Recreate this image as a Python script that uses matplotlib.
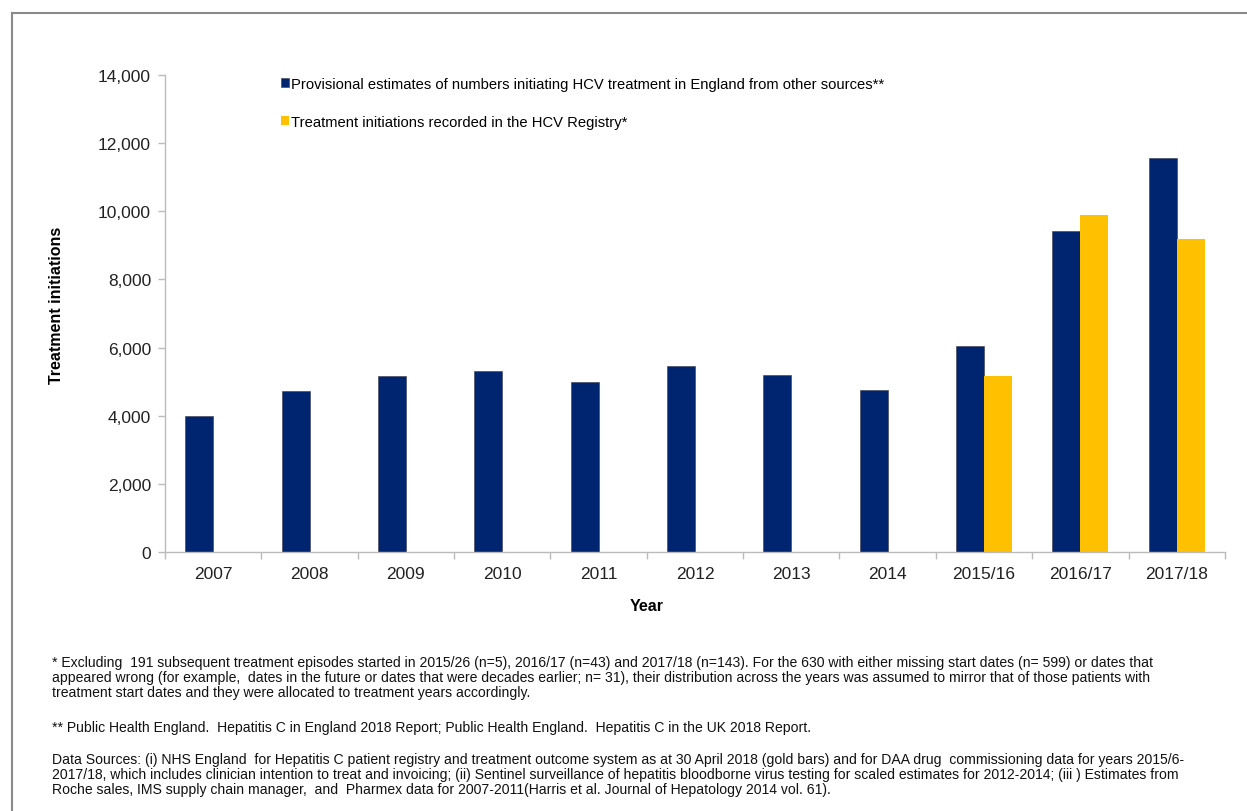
import numpy as np
import matplotlib
matplotlib.use("Agg")
import matplotlib.pyplot as plt
from matplotlib.lines import Line2D
from matplotlib.ticker import FuncFormatter, FixedLocator

plt.rcParams['font.family'] = ['Liberation Sans', 'DejaVu Sans']

years = ['2007', '2008', '2009', '2010', '2011', '2012', '2013', '2014',
         '2015/16', '2016/17', '2017/18']
other_sources = [4000, 4730, 5170, 5310, 4990, 5460, 5200, 4750, 6060, 9430, 11570]
registry = [0, 0, 0, 0, 0, 0, 0, 0, 5160, 9890, 9190]

navy = '#002570'
gold = '#FFC000'

fig = plt.figure(figsize=(12.47, 8.12), dpi=100)
ax = fig.add_axes([0.1323, 0.319, 0.850, 0.5874])

x = np.arange(len(years))
w = 0.29
ax.bar(x - w / 2, other_sources, w, color=navy, edgecolor='#3a3a4a', linewidth=0.4,
       label='Provisional estimates of numbers initiating HCV treatment in England from other sources**')
ax.bar(x + w / 2, registry, w, color=gold, linewidth=0,
       label='Treatment initiations recorded in the HCV Registry*')

ax.set_xlim(-0.5, len(years) - 0.5)
ax.set_ylim(0, 14000)
ax.set_yticks(np.arange(0, 14001, 2000))
ax.yaxis.set_major_formatter(FuncFormatter(lambda v, p: f'{int(v):,}'))
ax.set_xticks(x)
ax.set_xticklabels(years)
ax.xaxis.set_minor_locator(FixedLocator(np.arange(-0.5, len(years), 1)))
ax.tick_params(axis='x', which='major', length=0, labelsize=12.5, colors='#222222', pad=10)
ax.tick_params(axis='x', which='minor', length=5, color='#bbbbbb', width=1)
ax.tick_params(axis='y', length=5, color='#bbbbbb', width=1, labelsize=12.5,
               labelcolor='#222222', pad=5)

for s in ['top', 'right']:
    ax.spines[s].set_visible(False)
for s in ['left', 'bottom']:
    ax.spines[s].set_color('#bbbbbb')
    ax.spines[s].set_linewidth(1)

ax.set_ylabel('Treatment initiations', fontsize=11.5, fontweight='bold')
ax.yaxis.set_label_coords(-0.0953, 0.52)
ax.set_xlabel('Year', fontsize=11.5, fontweight='bold')
ax.xaxis.set_label_coords(0.454, -0.0964)

leg = ax.legend(loc='upper left', bbox_to_anchor=(0.2255, 1 - 78 / 812, 0, 0), bbox_transform=fig.transFigure,
                frameon=False, fontsize=10.6, handlelength=0.55, handleheight=0.55,
                handletextpad=0.12, labelspacing=1.6, borderpad=0, borderaxespad=0)

# footnotes under the chart
fs = 10.1
ls = 1.07
fx = 52 / 1247
fig.text(fx, 1 - 656 / 812,
         '* Excluding  191 subsequent treatment episodes started in 2015/26 (n=5), 2016/17 (n=43) and 2017/18 (n=143). For the 630 with either missing start dates (n= 599) or dates that\n'
         'appeared wrong (for example,  dates in the future or dates that were decades earlier; n= 31), their distribution across the years was assumed to mirror that of those patients with\n'
         'treatment start dates and they were allocated to treatment years accordingly.',
         fontsize=fs, va='top', ha='left', linespacing=ls, color='#111111')
fig.text(fx, 1 - 721 / 812,
         '** Public Health England.  Hepatitis C in England 2018 Report; Public Health England.  Hepatitis C in the UK 2018 Report.',
         fontsize=fs, va='top', ha='left', color='#111111')
fig.text(fx, 1 - 753 / 812,
         'Data Sources: (i) NHS England  for Hepatitis C patient registry and treatment outcome system as at 30 April 2018 (gold bars) and for DAA drug  commissioning data for years 2015/6-\n'
         '2017/18, which includes clinician intention to treat and invoicing; (ii) Sentinel surveillance of hepatitis bloodborne virus testing for scaled estimates for 2012-2014; (iii ) Estimates from\n'
         'Roche sales, IMS supply chain manager,  and  Pharmex data for 2007-2011(Harris et al. Journal of Hepatology 2014 vol. 61).',
         fontsize=fs, va='top', ha='left', linespacing=ls, color='#111111')

# frame lines along the top and left edges
top_y = 1 - 13.5 / 812
left_x = 12 / 1247
fig.add_artist(Line2D([left_x, 1], [top_y, top_y], transform=fig.transFigure, color='#8a8a8a', linewidth=1.5))
fig.add_artist(Line2D([left_x, left_x], [0, top_y], transform=fig.transFigure, color='#8a8a8a', linewidth=1.5))

fig.savefig('out.png', dpi=100)
